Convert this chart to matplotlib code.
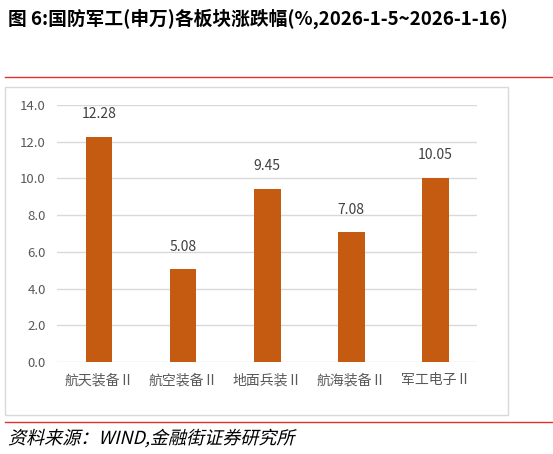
import matplotlib.pyplot as plt
from matplotlib.patches import Rectangle, PathPatch
from matplotlib.lines import Line2D
from matplotlib.textpath import TextPath
from matplotlib.font_manager import FontProperties
from matplotlib.transforms import Affine2D, IdentityTransform

plt.rcParams['font.family'] = ['Noto Sans CJK SC', 'DejaVu Sans']

categories = ['航天装备Ⅱ', '航空装备Ⅱ', '地面兵装Ⅱ', '航海装备Ⅱ', '军工电子Ⅱ']
values = [12.28, 5.08, 9.45, 7.08, 10.05]
yticks = [0, 2, 4, 6, 8, 10, 12, 14]

DPI = 100
fig = plt.figure(figsize=(5.53, 4.54), dpi=DPI)

# title and red rules
fig.text(0.014, 0.958, '图 6:国防军工(申万)各板块涨跌幅(%,2026-1-5~2026-1-16)',
         fontsize=13.5, fontweight='bold', va='center', ha='left')
fig.add_artist(Line2D([0.009, 1.0], [0.830, 0.830], color='#e03030', lw=1.0))
fig.add_artist(Line2D([0.009, 1.0], [0.0705, 0.0705], color='#e03030', lw=1.0))

# chart frame
fig.add_artist(Rectangle((0.009, 0.086), 0.910, 0.722, fill=False,
                         edgecolor='#d9d9d9', lw=1.0))

ax = fig.add_axes([0.103, 0.2026, 0.760, 0.566])
x = range(len(categories))
bars = ax.bar(x, values, width=0.32, color='#C55A11', zorder=3)

for xi, v in zip(x, values):
    ax.annotate(f'{v:.2f}', (xi, v), xytext=(0, 11), textcoords='offset points',
                ha='center', va='bottom', fontsize=10, color='#404040')

ax.set_ylim(0, 14)
ax.set_xlim(-0.5, len(categories) - 0.5)
ax.set_yticks(yticks)
ax.set_yticklabels([f'{t:.1f}' for t in yticks], fontsize=9.5, color='#595959')
ax.set_xticks(list(x))
ax.set_xticklabels(categories, fontsize=10, color='#595959')
ax.tick_params(length=0, pad=8)
ax.grid(axis='y', color='#d9d9d9', lw=1.0, zorder=0)
for s in ax.spines.values():
    s.set_visible(False)

# source note, slanted like the original italic
fp = FontProperties(family='Noto Sans CJK SC')
tp = TextPath((0, 0), '资料来源：WIND,金融街证券研究所', size=13, prop=fp)
tr = Affine2D().skew_deg(14, 0).scale(DPI / 72.0).translate(8, 10) + IdentityTransform()
fig.add_artist(PathPatch(tp, transform=tr, color='black', lw=0))

plt.savefig('out.png')
